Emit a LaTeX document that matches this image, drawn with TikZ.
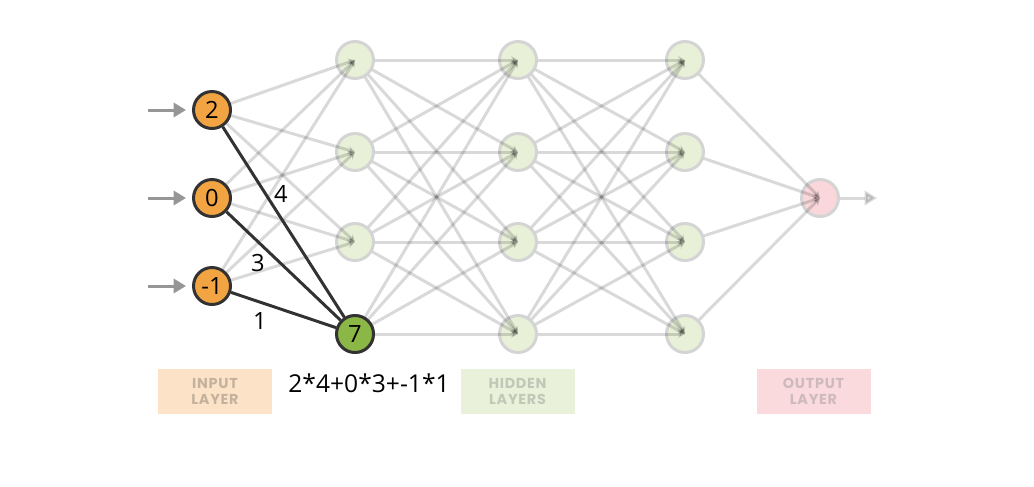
\documentclass[tikz,border=0pt]{standalone}
\usepackage{fontspec}
\setmainfont{Open Sans}
\newfontfamily\layerfont[LetterSpace=5]{Poppins}
\usetikzlibrary{arrows.meta,positioning}

\definecolor{inorange}{RGB}{243,164,66}
\definecolor{darkline}{RGB}{50,50,50}
\definecolor{hidfill}{RGB}{232,240,216}
\definecolor{outfill}{RGB}{249,215,218}
\definecolor{ringgray}{RGB}{212,212,212}
\definecolor{activegreen}{RGB}{139,183,71}
\definecolor{arrowgray}{RGB}{150,150,150}
\definecolor{inbox}{RGB}{252,227,199}
\definecolor{intext}{RGB}{196,178,158}
\definecolor{hidbox}{RGB}{233,241,219}
\definecolor{hidtext}{RGB}{194,200,184}
\definecolor{outbox}{RGB}{250,218,221}
\definecolor{outtext}{RGB}{206,186,188}

\begin{document}
\begin{tikzpicture}[
        inputnode/.style={circle, draw=darkline, line width=1.7pt, fill=inorange, minimum size=0.74cm, inner sep=0pt, font=\fontsize{13.5}{14}\selectfont},
        hidden/.style={circle, draw=ringgray, line width=1.7pt, fill=hidfill, minimum size=0.74cm, inner sep=0pt},
        active/.style={hidden, draw=darkline, fill=activegreen, font=\fontsize{13.5}{14}\selectfont},
        outputnode/.style={hidden, fill=outfill},
        faded/.style={draw=black, opacity=0.15, line width=1.7pt, -{Stealth[length=4pt,width=4.5pt]}},
        weight/.style={draw=darkline, line width=1.7pt},
        feed/.style={draw=arrowgray, line width=1.7pt, -{Triangle[length=7pt,width=8pt]}, shorten >=0.12cm},
        layerbox/.style={rectangle, minimum width=2.28cm, minimum height=0.9cm, align=center, inner sep=0pt, font=\layerfont\bfseries\fontsize{8.2}{9}\selectfont}
    ]
        \useasboundingbox (0,0) rectangle (20.68,-9.72);

        % Input layer
        \node[inputnode] (in1) at (4.24,-2.2) {2};
        \node[inputnode] (in2) at (4.24,-3.96) {0};
        \node[inputnode] (in3) at (4.24,-5.72) {-1};

        % Hidden layers
        \foreach \l/\x in {1/7.1, 2/10.36, 3/13.7}
            \foreach \r/\y in {1/-1.2, 2/-3.04, 3/-4.84, 4/-6.68}
                \node[hidden] (h\l\r) at (\x,\y) {};
        \node[active] (h14) at (7.1,-6.68) {7};

        % Output layer
        \node[outputnode] (out) at (16.4,-3.96) {};

        % Feed arrows
        \coordinate (s1) at (2.96,-2.2);
        \coordinate (s2) at (2.96,-3.96);
        \coordinate (s3) at (2.96,-5.72);
        \coordinate (e) at (17.54,-3.96);
        \draw[feed] (s1) -- (in1);
        \draw[feed] (s2) -- (in2);
        \draw[feed] (s3) -- (in3);
        \draw[draw=black, opacity=0.15, line width=1.7pt, -{Triangle[length=7pt,width=8pt]}] (out) -- (e);

        % Faded connections
        \foreach \i in {1,2,3}
            \foreach \j in {1,2,3}
                \draw[faded] (in\i) -- (h1\j.center);
        \foreach \i in {1,2,3,4}
            \foreach \j in {1,2,3,4} {
                \draw[faded] (h1\i) -- (h2\j.center);
                \draw[faded] (h2\i) -- (h3\j.center);
            }
        \foreach \i in {1,2,3,4}
            \draw[faded] (h3\i) -- (out.center);

        % Weighted connections
        \draw[weight] (in1) -- (h14);
        \draw[weight] (in2) -- (h14);
        \draw[weight] (in3) -- (h14);
        \node[font=\fontsize{13.5}{14}\selectfont] (w1) at (5.62,-3.88) {4};
        \node[font=\fontsize{13.5}{14}\selectfont] (w2) at (5.16,-5.26) {3};
        \node[font=\fontsize{13.5}{14}\selectfont] (w3) at (5.2,-6.42) {1};

        % Sum
        \node[font=\fontsize{14}{16}\selectfont] (sum) at (7.38,-7.66) {2*4+0*3+-1*1};

        % Layer labels
        \node[layerbox, fill=inbox, text=intext] (inlabel) at (4.3,-7.83) {INPUT\\LAYER};
        \node[layerbox, fill=hidbox, text=hidtext] (hidlabel) at (10.35,-7.83) {HIDDEN\\LAYERS};
        \node[layerbox, fill=outbox, text=outtext] (outlabel) at (16.27,-7.83) {OUTPUT\\LAYER};

    \end{tikzpicture}
\end{document}
